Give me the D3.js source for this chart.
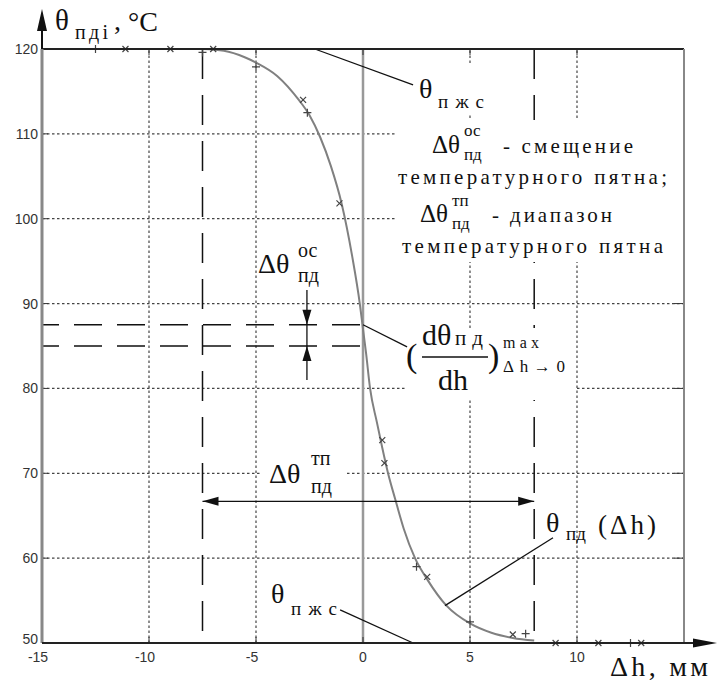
<!DOCTYPE html>
<html><head><meta charset="utf-8">
<script src="https://cdn.jsdelivr.net/npm/d3@7"></script>
<style>body{margin:0;background:#fff}svg{display:block}</style>
</head><body><svg id="c" width="717" height="682"></svg>
<script>
// ---- data ----
const xTicks = [-15, -10, -5, 0, 5, 10];
const yTicks = [50, 60, 70, 80, 90, 100, 110, 120];
const xGrid = [-10, -5, 5, 10];
const yGrid = [60, 70, 80, 90, 100, 110];
const curveX = [-7.5, -6.5, -5.5, -5, -4, -3, -2.5, -2, -1.5, -1, -0.5, -0.15, 0, 0.15, 0.33, 0.65, 0.9, 1.17, 1.5, 1.9, 2.43, 3, 3.9, 5, 6, 7, 8];
const curveY = [120, 119.8, 119, 118.4, 116.8, 114, 112.2, 109.6, 106.2, 101.8, 95.5, 90, 87, 84, 80, 76, 73, 70, 67, 63.5, 60, 57.5, 54.4, 52.3, 51.2, 50.6, 50.3];
const plusX = [-12.5, -7.5, -5, -2.6, 2.5, 5, 7.6, 12.5];
const plusY = [120, 119.6, 117.9, 112.5, 59, 52.5, 51.1, 50];
const crossX = [-11.1, -9, -7, -2.8, -1.1, 0.9, 1.0, 3, 7, 9, 11, 13];
const crossY = [120, 120, 120, 114, 101.8, 73.9, 71.2, 57.8, 51, 50, 50, 50];
const offsetLevels = [87.5, 85];      // Δθ ос
const rangeBounds = [-7.5, 8];        // Δθ тп
const rangeArrowLevel = 66.7;
const offsetArrowX = -2.62;

// ---- setup ----
const svg = d3.select('#c');
const x = d3.scaleLinear().domain([-15, 15]).range([42, 684]);
const y = d3.scaleLinear().domain([50, 120]).range([643, 49]);
const SERIF = "'Liberation Serif','DejaVu Serif',serif";
const SANS = "'Liberation Sans',Arial,sans-serif";
svg.append('rect').attr('width', 717).attr('height', 682).attr('fill', '#fff');

// grid
const g = svg.append('g');
g.selectAll('.vg').data(xGrid).join('line')
  .attr('x1', d => x(d)).attr('x2', d => x(d)).attr('y1', y(50)).attr('y2', y(120))
  .attr('stroke', '#444').attr('stroke-width', 1.2).attr('stroke-dasharray', '2.5,2.5');
g.selectAll('.hg').data(yGrid).join('line')
  .attr('x1', x(-15)).attr('x2', x(15)).attr('y1', d => y(d)).attr('y2', d => y(d))
  .attr('stroke', '#444').attr('stroke-width', 1.2).attr('stroke-dasharray', '2.5,2.5');
// zero line
g.append('line').attr('x1', x(0)).attr('x2', x(0)).attr('y1', y(50)).attr('y2', y(120))
  .attr('stroke', '#999').attr('stroke-width', 2.5);
// long-dash lines
g.selectAll('.vd').data(rangeBounds).join('line')
  .attr('x1', d => x(d)).attr('x2', d => x(d)).attr('y1', y(120)).attr('y2', y(50))
  .attr('stroke', '#111').attr('stroke-width', 1.5).attr('stroke-dasharray', '30,16');
g.selectAll('.hd').data(offsetLevels).join('line')
  .attr('x1', x(-15)).attr('x2', x(0)).attr('y1', d => y(d)).attr('y2', d => y(d))
  .attr('stroke', '#111').attr('stroke-width', 1.5).attr('stroke-dasharray', '28,15').attr('stroke-dashoffset', 11);

// ticks (inside, all sides)
const tk = svg.append('g').attr('stroke', '#333').attr('stroke-width', 1);
yTicks.forEach(v => {
  tk.append('line').attr('x1', x(-15)).attr('x2', x(-15) + 6).attr('y1', y(v)).attr('y2', y(v));
  tk.append('line').attr('x1', x(15)).attr('x2', x(15) - 10).attr('y1', y(v)).attr('y2', y(v));
});
xTicks.concat([15]).forEach(v => {
  tk.append('line').attr('x1', x(v)).attr('x2', x(v)).attr('y1', y(50)).attr('y2', y(50) - 6);
  tk.append('line').attr('x1', x(v)).attr('x2', x(v)).attr('y1', y(120)).attr('y2', y(120) + 6);
});

// white masks behind labels
const masks = [[415, 63, 77, 50], [395, 120, 288, 142], [262, 452, 83, 44], [405, 328, 170, 72]];
svg.selectAll('.mask').data(masks).join('rect')
  .attr('x', d => d[0]).attr('y', d => d[1]).attr('width', d => d[2]).attr('height', d => d[3]).attr('fill', '#fff');

// curve
const pts = curveX.map((v, i) => [v, curveY[i]]);
svg.append('path').attr('d', d3.line().x(d => x(d[0])).y(d => y(d[1])).curve(d3.curveMonotoneX)(pts))
  .attr('fill', 'none').attr('stroke', '#808080').attr('stroke-width', 2);
// markers
const mk = svg.append('g').attr('stroke', '#444').attr('stroke-width', 1.2);
plusX.forEach((v, i) => {
  const cx = x(v), cy = y(plusY[i]);
  mk.append('path').attr('d', `M${cx - 4},${cy}H${cx + 4}M${cx},${cy - 4}V${cy + 4}`);
});
crossX.forEach((v, i) => {
  const cx = x(v), cy = y(crossY[i]);
  mk.append('path').attr('d', `M${cx - 3},${cy - 3}L${cx + 3},${cy + 3}M${cx - 3},${cy + 3}L${cx + 3},${cy - 3}`);
});

// annotation lines
const ann = svg.append('g').attr('stroke', '#111').attr('stroke-width', 1.3).attr('fill', 'none');
const leaders = [[[-2.25, 120], [2.34, 115.76]], [[0, 87.5], [2.06, 84.9]], [[8.88, 62.4], [3.83, 54.4]], [[-1.07, 53.9], [2.34, 50]]];
leaders.forEach(l => ann.append('line').attr('x1', x(l[0][0])).attr('y1', y(l[0][1])).attr('x2', x(l[1][0])).attr('y2', y(l[1][1])));
function head(tx, ty, dx, dy, len, hw) {
  const bx = tx - dx * len, by = ty - dy * len;
  svg.append('path').attr('d', `M${tx},${ty}L${bx - dy * hw},${by + dx * hw}L${bx + dy * hw},${by - dx * hw}Z`).attr('fill', '#111');
}
// vertical offset arrow
ann.append('line').attr('x1', x(offsetArrowX)).attr('x2', x(offsetArrowX)).attr('y1', y(91.6)).attr('y2', y(81.0));
head(x(offsetArrowX), y(offsetLevels[0]), 0, 1, 15, 4.5);
head(x(offsetArrowX), y(offsetLevels[1]), 0, -1, 15, 4.5);
// horizontal range arrow
ann.append('line').attr('x1', x(rangeBounds[0])).attr('x2', x(rangeBounds[1])).attr('y1', y(rangeArrowLevel)).attr('y2', y(rangeArrowLevel));
head(x(rangeBounds[0]), y(rangeArrowLevel), -1, 0, 16, 4.5);
head(x(rangeBounds[1]), y(rangeArrowLevel), 1, 0, 16, 4.5);

// frame & axes
svg.append('line').attr('x1', x(-15)).attr('x2', x(15)).attr('y1', y(120)).attr('y2', y(120)).attr('stroke', '#222').attr('stroke-width', 1.8);
svg.append('line').attr('x1', x(15)).attr('x2', x(15)).attr('y1', y(120)).attr('y2', y(50)).attr('stroke', '#888').attr('stroke-width', 2);
svg.append('line').attr('x1', x(-15)).attr('x2', x(-15)).attr('y1', y(50)).attr('y2', y(120)).attr('stroke', '#888').attr('stroke-width', 3);
svg.append('line').attr('x1', x(-15)).attr('x2', x(-15)).attr('y1', y(120)).attr('y2', 25).attr('stroke', '#111').attr('stroke-width', 2);
head(x(-15), 9, 0, -1, 22, 5);
svg.append('line').attr('x1', x(-15)).attr('x2', 700).attr('y1', y(50)).attr('y2', y(50)).attr('stroke', '#222').attr('stroke-width', 2.2);
head(717, y(50), 1, 0, 24, 4.5);

// tick labels
svg.selectAll('.yl').data(yTicks).join('text')
  .attr('x', x(-15) - 4).attr('y', d => y(d) + (d === 50 ? 1 : 5)).attr('text-anchor', 'end')
  .attr('font-family', SANS).attr('font-size', 14).attr('fill', '#333').text(d => d);
svg.selectAll('.xl').data(xTicks).join('text')
  .attr('x', d => x(d) - (d < 0 ? 4 : 0)).attr('y', y(50) + 19).attr('text-anchor', 'middle')
  .attr('font-family', SANS).attr('font-size', 14).attr('fill', '#333').text(d => d < 0 ? '-' + Math.abs(d) : d);

// text helper
function T(px, py, s, size, extra) {
  const t = svg.append('text').attr('x', px).attr('y', py).attr('font-family', SERIF).attr('font-size', size).attr('fill', '#111').text(s);
  if (extra && extra.len) t.attr('textLength', extra.len).attr('lengthAdjust', 'spacing');
  return t;
}
// y title
T(55, 30, 'θ', 29); T(75, 39, 'пді', 20, {len: 33}); T(114, 30, ',', 28); T(128, 31, '°C', 28);
// x title
T(610, 676, 'Δh, мм', 28, {len: 98});
// top θпжс
T(419, 98, 'θ', 28); T(438, 108, 'пжс', 19, {len: 46});
// bottom θпжс
T(271, 603, 'θ', 28); T(291, 615, 'пжс', 19, {len: 46});
// right text block
T(432, 153, 'Δθ', 25); T(464, 136, 'ос', 17); T(464, 160, 'пд', 17); T(503, 153, '- смещение', 21, {len: 130});
T(398, 184, 'температурного пятна;', 21, {len: 269});
T(420, 222, 'Δθ', 25); T(452, 206, 'тп', 17); T(452, 229, 'пд', 17); T(492, 222, '- диапазон', 21, {len: 120});
T(402, 253, 'температурного пятна', 21, {len: 261});
// Δθ ос
T(258, 273, 'Δθ', 28); T(298, 257, 'ос', 20); T(298, 282, 'пд', 20);
// Δθ тп
T(269, 483, 'Δθ', 28); T(311, 465, 'тп', 20); T(311, 493, 'пд', 20);
// derivative label
T(406, 367, '(', 34); T(422, 345, 'dθ', 30); T(455, 345, 'пд', 21, {len: 28});
svg.append('line').attr('x1', 422).attr('x2', 488).attr('y1', 357).attr('y2', 357).attr('stroke', '#111').attr('stroke-width', 1.5);
T(438, 390, 'dh', 30); T(488, 367, ')', 34); T(503, 348, 'max', 16, {len: 36}); T(503, 372, 'Δh→0', 17, {len: 62});
// θпд(Δh)
T(546, 532, 'θ', 28); T(566, 540, 'пд', 19); T(598, 534, '(Δh)', 27, {len: 58});
</script></body></html>
